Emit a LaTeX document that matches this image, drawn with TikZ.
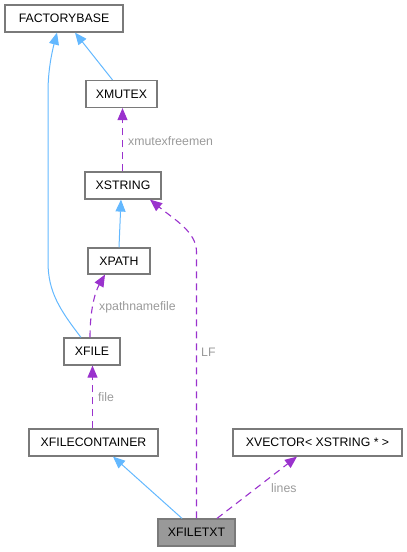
\documentclass[tikz,border=0pt]{standalone}
\usepackage{fontspec}
\setmainfont{Liberation Sans}
\usetikzlibrary{arrows.meta}
\definecolor{inhblue}{HTML}{63B8FF}
\definecolor{usepurple}{HTML}{9A32CD}
\definecolor{lblgray}{HTML}{9A9A9A}
\definecolor{boxgray}{HTML}{7A7A7A}
\definecolor{curfill}{HTML}{999999}
\begin{document}
\begin{tikzpicture}[x=1pt,y=-1pt,
  box/.style={draw=boxgray,line width=1.2pt,fill=white,inner sep=0pt,minimum height=27pt,font=\fontsize{12.3}{14}\selectfont},
  inh/.style={draw=inhblue,line width=1pt,-{Triangle[length=12pt,width=10pt]}},
  usedash/.style={draw=usepurple,line width=1.1pt,dash pattern=on 7pt off 5pt,-{Triangle[length=12pt,width=10pt]}},
  lbl/.style={text=lblgray,anchor=west,inner sep=0pt,font=\fontsize{12.3}{14}\selectfont}]
\useasboundingbox (0,0) rectangle (407,552);
\node[box,minimum width=118pt] (fb) at (64,18.5) {FACTORYBASE};
\node[box,minimum width=71pt] (xm) at (121.5,94) {XMUTEX};
\node[box,minimum width=76pt] (xs) at (123,185.5) {XSTRING};
\node[box,minimum width=62pt,minimum height=26pt] (xp) at (119,261) {XPATH};
\node[box,minimum width=56pt] (xf) at (92,351.5) {XFILE};
\node[box,minimum width=129pt] (xfc) at (93.5,442.5) {XFILECONTAINER};
\node[box,minimum width=169pt] (xv) at (317.5,442.5) {XVECTOR< XSTRING * >};
\node[box,minimum width=77pt,fill=curfill] (xt) at (196.5,532.5) {XFILETXT};
% inheritance
\draw[inh] ([xshift=-9pt]xm.north) -- ([xshift=11pt]fb.south);
\draw[inh] ([xshift=-11pt]xf.north) .. controls (60,310) and (48,292) .. (48,262) -- (48,92) .. controls (48,70) and (52,52) .. ([xshift=-7pt]fb.south);
\draw[inh] (xp.north) -- ([xshift=-2pt]xs.south);
\draw[inh] ([xshift=-14.5pt]xt.north) -- ([xshift=19.5pt]xfc.south);
% usage
\draw[usedash] ([xshift=-0.5pt]xs.north) -- ([xshift=1pt]xm.south);
\draw[usedash] ([xshift=-2pt]xf.north) .. controls (90,310) and (95,292) .. ([xshift=-14pt]xp.south);
\draw[usedash] ([xshift=0.5pt]xfc.north -| xf.south) -- ([xshift=0.5pt]xf.south);
\draw[usedash] (xt.north) -- (196.5,252) .. controls (196.5,232) and (175,220) .. ([xshift=27pt]xs.south);
\draw[usedash] ([xshift=20.5pt]xt.north) -- ([xshift=-20.5pt]xv.south);
% labels
\node[lbl] (l1) at (128,141) {xmutexfreemen};
\node[lbl] (l2) at (99,307) {xpathnamefile};
\node[lbl] (l3) at (201,352) {LF};
\node[lbl] (l4) at (98,397) {file};
\node[lbl] (l5) at (271,488) {lines};
\end{tikzpicture}
\end{document}
